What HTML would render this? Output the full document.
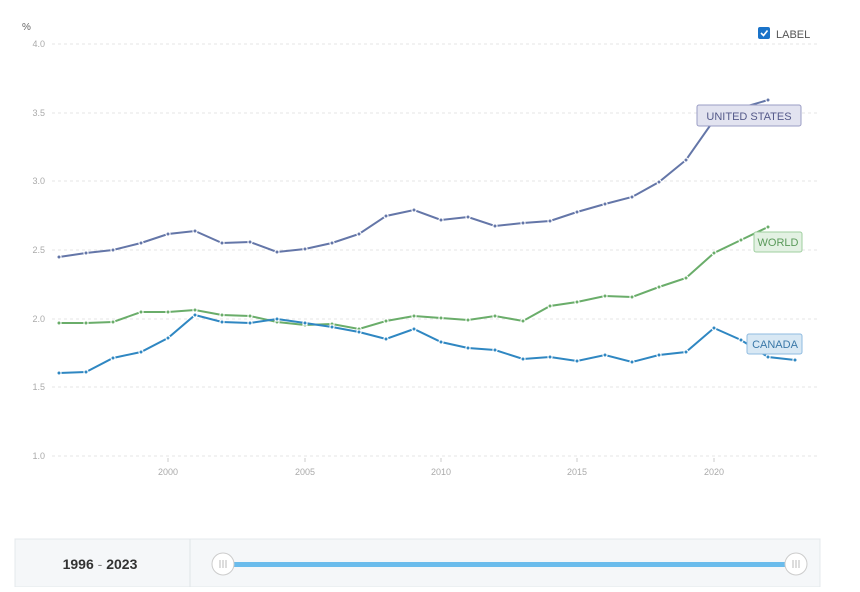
<!DOCTYPE html>
<html><head><meta charset="utf-8"><style>
body{margin:0;background:#fff;font-family:"Liberation Sans",sans-serif;}
</style></head><body>
<svg id="s" width="860" height="587" xmlns="http://www.w3.org/2000/svg" font-family="Liberation Sans, sans-serif">
<rect width="860" height="587" fill="#fff"/>
<text x="22" y="30" font-size="10" fill="#666">%</text>
<g stroke="#e6e6e6" stroke-dasharray="3,3" stroke-width="1">
<line x1="52" x2="818" y1="44" y2="44"/><line x1="52" x2="818" y1="113" y2="113"/>
<line x1="52" x2="818" y1="181" y2="181"/><line x1="52" x2="818" y1="250" y2="250"/>
<line x1="52" x2="818" y1="319" y2="319"/><line x1="52" x2="818" y1="387" y2="387"/>
<line x1="52" x2="818" y1="456" y2="456"/>
</g>
<g stroke="#ccc"><line x1="168" x2="168" y1="458" y2="462"/><line x1="305" x2="305" y1="458" y2="462"/><line x1="441" x2="441" y1="458" y2="462"/><line x1="577" x2="577" y1="458" y2="462"/><line x1="714" x2="714" y1="458" y2="462"/></g>
<g font-size="9" fill="#aaa" text-anchor="end">
<text x="45" y="47">4.0</text><text x="45" y="116">3.5</text><text x="45" y="184">3.0</text>
<text x="45" y="253">2.5</text><text x="45" y="322">2.0</text><text x="45" y="390">1.5</text><text x="45" y="459">1.0</text>
</g>
<g font-size="9" fill="#aaa" text-anchor="middle">
<text x="168" y="475">2000</text><text x="305" y="475">2005</text><text x="441" y="475">2010</text><text x="577" y="475">2015</text><text x="714" y="475">2020</text>
</g>
<g id="lines" fill="none" stroke-width="2">
<polyline stroke="#6476a8" points="59,257 86,253 113,250 141,243 168,234 195,231 222,243 250,242 277,252 305,249 332,243 359,234 386,216 414,210 441,220 468,217 495,226 523,223 550,221 577,212 605,204 632,197 659,182 686,160 714,120 741,108 768,100"/>
<polyline stroke="#6aad6a" points="59,323 86,323 113,322 141,312 168,312 195,310 222,315 250,316 277,322 305,325 332,324 359,329 386,321 414,316 441,318 468,320 495,316 523,321 550,306 577,302 605,296 632,297 659,287 686,278 714,253 741,240 768,227"/>
<polyline stroke="#2f87c2" points="59,373 86,372 113,358 141,352 168,338 195,315 222,322 250,323 277,319 305,323 332,327 359,332 386,339 414,329 441,342 468,348 495,350 523,359 550,357 577,361 605,355 632,362 659,355 686,352 714,328 741,340 768,357 795,360"/>
</g>
<g id="dots"></g>
<rect x="697" y="105" width="104" height="21" rx="2" fill="#e2e3f0" stroke="#9a9cc4"/>
<text x="749" y="120" font-size="11" fill="#555a8a" text-anchor="middle">UNITED STATES</text>
<rect x="754" y="232" width="48" height="20" rx="2" fill="#e3f1e3" stroke="#9fcf9f"/>
<text x="778" y="246" font-size="11" fill="#5a9a5a" text-anchor="middle">WORLD</text>
<rect x="747" y="334" width="55" height="20" rx="2" fill="#d8e8f4" stroke="#8fbbe0"/>
<text x="775" y="348" font-size="11" fill="#3a78a8" text-anchor="middle">CANADA</text>
<rect x="758" y="27" width="12" height="12" rx="2" fill="#1a73c9"/>
<path d="M761 33 l2.5 2.5 l4 -5" stroke="#fff" stroke-width="1.6" fill="none"/>
<text x="776" y="38" font-size="11" fill="#555">LABEL</text>
<rect x="15" y="539" width="805" height="48" fill="#f5f7f9" stroke="#e4e8ec"/>
<line x1="190" y1="539" x2="190" y2="587" stroke="#e0e4e8"/>
<text x="100" y="569" font-size="14" font-weight="bold" fill="#333" text-anchor="middle">1996 <tspan font-weight="normal" fill="#888">-</tspan> 2023</text>
<rect x="223" y="562" width="573" height="5" fill="#6bbcec"/>
<circle cx="223" cy="564" r="11" fill="#fff" stroke="#ccc"/>
<circle cx="796" cy="564" r="11" fill="#fff" stroke="#ccc"/>
<g stroke="#bbb"><line x1="220" y1="560" x2="220" y2="568"/><line x1="223" y1="560" x2="223" y2="568"/><line x1="226" y1="560" x2="226" y2="568"/>
<line x1="793" y1="560" x2="793" y2="568"/><line x1="796" y1="560" x2="796" y2="568"/><line x1="799" y1="560" x2="799" y2="568"/></g>
</svg>
<script>
var ns="http://www.w3.org/2000/svg",d=document.getElementById("dots");
document.querySelectorAll("#lines polyline").forEach(function(p){
 var c=p.getAttribute("stroke");
 p.getAttribute("points").split(" ").forEach(function(pt){
  var xy=pt.split(","),w=document.createElementNS(ns,"circle");
  w.setAttribute("cx",xy[0]);w.setAttribute("cy",xy[1]);w.setAttribute("r","2.6");w.setAttribute("fill","#fff");d.appendChild(w);
  var k=document.createElementNS(ns,"circle");
  k.setAttribute("cx",xy[0]);k.setAttribute("cy",xy[1]);k.setAttribute("r","1.5");k.setAttribute("fill",c);d.appendChild(k);
 });
});
</script>
</body></html>
